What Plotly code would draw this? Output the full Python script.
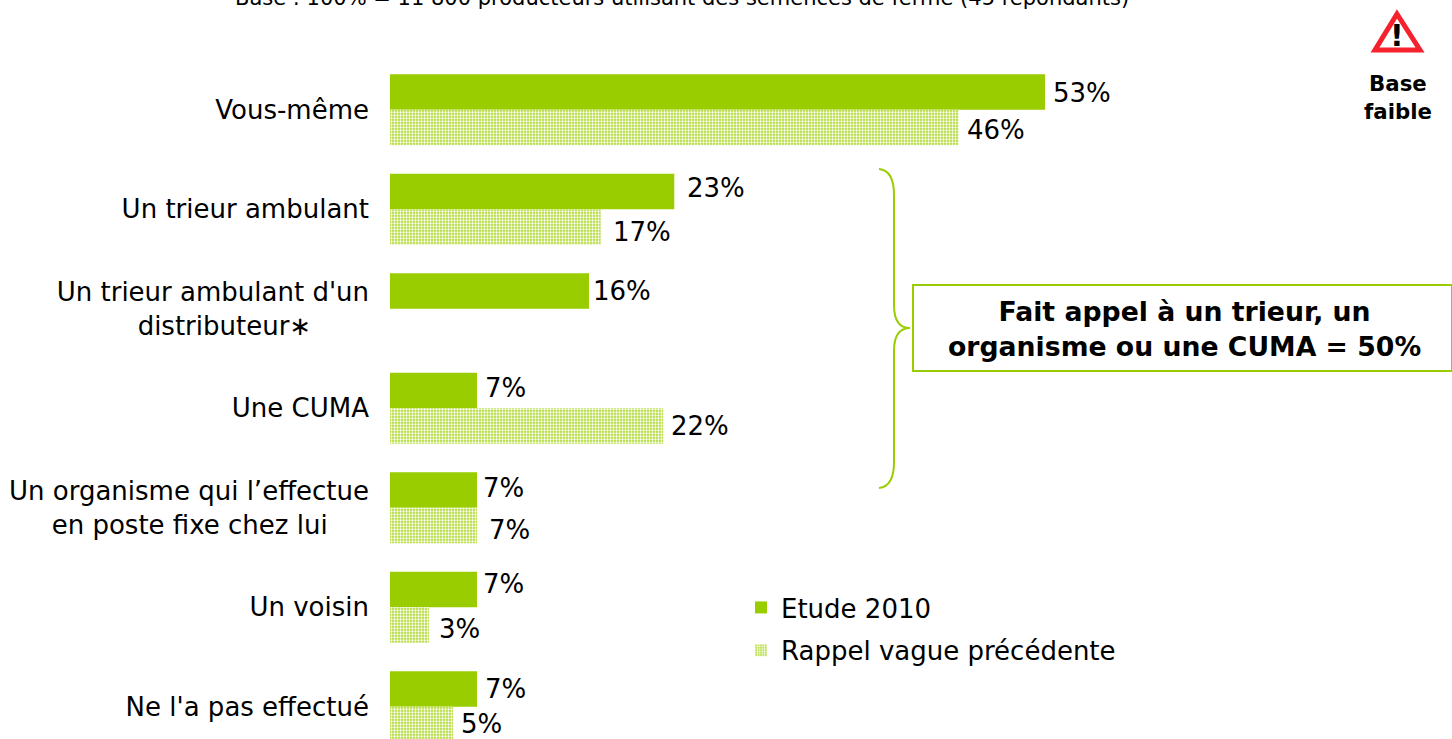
import plotly.graph_objects as go

# --- Data ---
categories = [
    "Vous-même",
    "Un trieur ambulant",
    "Un trieur ambulant d'un<br>distributeur∗&nbsp;&nbsp;&nbsp;&nbsp;&nbsp;&nbsp;&nbsp;",
    "Une CUMA",
    "Un organisme qui l’effectue<br>en poste fixe chez lui&nbsp;&nbsp;&nbsp;&nbsp;&nbsp;",
    "Un voisin",
    "Ne l'a pas effectué",
]
etude_2010 = [53, 23, 16.1, 7.04, 7.04, 7.04, 7.04]
rappel = [46, 17.05, None, 22.1, 7.04, 3.15, 5.1]

# label nudges in px (the labels were moved by hand in the original)
etude_dx = [6, 11, 2, 6, 4, 4, 6]
etude_dy = [-1, 4, 0, 3, 2, 6, 0]
rappel_dx = [6, 10, 0, 6, 10, 8, 6]
rappel_dy = [-3, -5, 0, 0, -5, -4, 0]

GREEN = "#9ACD00"
FONT = "DejaVu Sans"
W, H = 1452, 739
M_L, M_T = 390, 60


def px(x):
    return (x - M_L) / (W - M_L)


def py(y):
    return (H - y) / (H - M_T)


fig = go.Figure()

fig.add_trace(go.Bar(
    y=categories, x=etude_2010, name="Etude 2010", orientation="h", legendgroup="a",
    marker_color=GREEN, marker_line_width=0,
))
fig.add_trace(go.Bar(
    y=categories, x=rappel, name="Rappel vague précédente", orientation="h", legendgroup="b",
    marker=dict(
        color="white", line_width=0,
        pattern=dict(shape=".", size=3, solidity=0.45, fgcolor="white", bgcolor="#B4DB3A", fillmode="replace"),
    ),
))

# --- Value labels ---
annotations = []
slot = 0.3545  # half a category slot, in category units
for i, cat in enumerate(categories):
    annotations.append(dict(
        x=etude_2010[i], y=i - slot / 2, xref="x", yref="y", text=f"{etude_2010[i]:.0f}%",
        showarrow=False, xanchor="left", xshift=etude_dx[i], yshift=etude_dy[i],
        font=dict(size=26),
    ))
    if rappel[i] is not None:
        annotations.append(dict(
            x=rappel[i], y=i + slot / 2, xref="x", yref="y", text=f"{rappel[i]:.0f}%",
            showarrow=False, xanchor="left", xshift=rappel_dx[i], yshift=rappel_dy[i],
            font=dict(size=26),
        ))

# --- Texts around the chart ---
annotations += [
    dict(x=px(682), y=py(-16), xref="paper", yref="paper", showarrow=False, xanchor="center", yanchor="top",
         text="Base : 100% = 11 800 producteurs utilisant des semences de ferme (45 répondants)",
         font=dict(size=21)),
    dict(x=px(1398), y=py(97), xref="paper", yref="paper", showarrow=False, align="center", xanchor="center",
         text="<b>Base<br>faible</b>", font=dict(size=21.3), yanchor="middle"),
    dict(x=px(1184), y=py(329), xref="paper", yref="paper", showarrow=False, align="center", xanchor="center",
         yanchor="middle",
         text="<b>Fait appel à un trieur, un<br>organisme ou une CUMA = 50%</b>", font=dict(size=26.7)),
    dict(x=px(1397), y=py(36), xref="paper", yref="paper", showarrow=False, xanchor="center", yanchor="middle",
         text="<b>!</b>", font=dict(size=30, color="black")),
]

# --- Brace, box, warning sign ---
shapes = [
    dict(type="path", xref="paper", yref="paper", line=dict(color=GREEN, width=2),
         path=(
             f"M{px(879)},{py(169)} C{px(889)},{py(170)} {px(894)},{py(178)} {px(894)},{py(195)} "
             f"L{px(894)},{py(305)} C{px(894)},{py(320)} {px(899)},{py(328)} {px(910)},{py(328)} "
             f"C{px(899)},{py(328)} {px(894)},{py(336)} {px(894)},{py(351)} "
             f"L{px(894)},{py(462)} C{px(894)},{py(479)} {px(889)},{py(487)} {px(879)},{py(488)}"
         )),
    dict(type="rect", xref="paper", yref="paper", x0=px(913), x1=px(1452), y0=py(285), y1=py(371),
         line=dict(color=GREEN, width=2)),
    dict(type="path", xref="paper", yref="paper", fillcolor="white",
         line=dict(color="#F5222D", width=5),
         path=f"M{px(1397)},{py(14)} L{px(1420)},{py(50)} L{px(1375)},{py(50)} Z"),
]

fig.update_layout(
    width=W, height=H,
    margin=dict(l=M_L, r=0, t=M_T, b=0, autoexpand=False),
    paper_bgcolor="white", plot_bgcolor="white",
    font=dict(family=FONT, size=26, color="black"),
    barmode="group", bargap=0.286, bargroupgap=0,
    showlegend=True,
    legend=dict(x=px(741), y=py(584), xanchor="left", yanchor="top", bgcolor="rgba(0,0,0,0)",
                font=dict(size=26), traceorder="grouped", tracegroupgap=6),
    xaxis=dict(range=[0, (W - M_L) / 12.36], visible=False),
    yaxis=dict(
        type="category", categoryorder="array", categoryarray=categories,
        range=[6.324, -0.5], showgrid=False, zeroline=False, showline=False,
        ticks="", ticklabelstandoff=20, tickfont=dict(size=26),
    ),
    annotations=annotations,
    shapes=shapes,
)

fig.write_html("out.html", config={"displayModeBar": False}, post_script="document.body.style.margin='0';")
